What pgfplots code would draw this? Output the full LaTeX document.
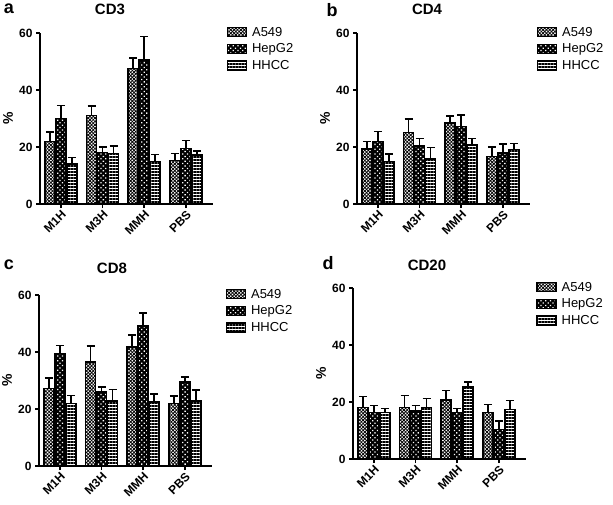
\documentclass[border=0pt]{standalone}
\usepackage{fontspec}
\setmainfont{Liberation Sans}
\usepackage{pgfplots}
\pgfplotsset{compat=1.18}
\usepackage{pgfplotstable}
\usetikzlibrary{patterns.meta}

% x: group, a/ae: A549 mean/err, h/he: HepG2, c/ce: HHCC
\pgfplotstableread{
x a ae h he c ce
0 22.0 3.3 30.0 4.6 14.0 2.3
1 31.0 3.3 18.0 2.0 17.8 2.5
2 47.6 3.7 50.5 8.2 14.9 2.5
3 15.2 2.5 19.5 2.8 17.2 1.4
}\cdthree
\pgfplotstableread{
x a ae h he c ce
0 19.3 2.7 22.0 3.4 15.0 2.6
1 25.1 4.7 20.4 2.6 15.8 4.0
2 28.5 2.4 27.2 4.1 20.7 2.3
3 16.6 3.4 17.9 3.2 19.2 2.1
}\cdfour
\pgfplotstableread{
x a ae h he c ce
0 27.2 3.7 39.4 2.8 21.9 2.9
1 36.5 5.6 26.0 1.7 22.8 4.1
2 41.7 4.3 49.1 4.6 22.5 2.7
3 21.9 2.7 29.4 1.8 22.8 3.8
}\cdeight
\pgfplotstableread{
x a ae h he c ce
0 18.0 4.0 16.4 2.3 16.3 1.4
1 18.0 4.2 16.8 2.0 18.0 3.3
2 20.7 3.4 16.4 1.4 25.3 1.8
3 16.3 2.8 10.4 2.9 17.3 3.2
}\cdtwenty

\pgfplotsset{
  panel/.style={
    width=173pt, height=171pt, scale only axis,
    ybar=1pt, bar width=10pt,
    ymin=0, ymax=60, ytick={0,20,40,60},
    xmin=-0.5, xmax=3.65, xtick={0,1,2,3},
    xticklabels={M1H,M3H,MMH,PBS},
    axis x line*=bottom, axis y line*=left,
    axis line style={line width=1.5pt,-},
    tick style={line width=1.5pt,black}, tick align=outside,
    major tick length=4pt,
    /pgf/number format/assume math mode=true,
    tick label style={font=\bfseries\fontsize{12}{12}\selectfont},
    xticklabel style={rotate=45, anchor=north east, inner sep=1pt},
    ylabel={\%},
    ylabel style={font=\bfseries\fontsize{14}{14}\selectfont,
      at={(axis description cs:-0.185,0.5)}, anchor=center},
    legend style={at={(1.06,1.06)}, anchor=north west, draw=none,
      font=\fontsize{13}{15}\selectfont, row sep=2pt},
    legend cell align=left,
    error bars/y dir=plus, error bars/y explicit,
    error bars/error bar style={line width=1.5pt,black},
    error bars/error mark options={rotate=90, mark size=4pt, line width=1.5pt, black},
  },
  boxleg/.style={legend image code/.code={
    \draw[##1, line width=1.5pt] (0pt,-4.5pt) rectangle (19pt,4.5pt);
    \path (22pt,0pt);}},
  sA/.style={draw=black, line width=1.5pt, fill=white,
    postaction={pattern={Lines[angle=45,distance=2.4pt,line width=0.8pt]}},
    postaction={pattern={Lines[angle=-45,distance=2.4pt,line width=0.8pt]}},
    boxleg},
  sH/.style={draw=black, line width=1.5pt, fill=black,
    postaction={pattern={Dots[angle=45,distance=3.4pt,radius=0.9pt]}, pattern color=white},
    boxleg},
  sC/.style={draw=black, line width=1.5pt, fill=white,
    postaction={pattern={Lines[angle=0,distance=3pt,line width=1.5pt]}},
    boxleg},
}

\newcommand{\panel}[1]{%
  \addplot[sA] table[x=x,y=a,y error=ae] {#1};
  \addplot[sH] table[x=x,y=h,y error=he] {#1};
  \addplot[sC] table[x=x,y=c,y error=ce] {#1};
  \legend{A549,HepG2,HHCC}}

\begin{document}
\begin{tikzpicture}[x=1pt,y=1pt]
\useasboundingbox (0,0) rectangle (613,-505);

\begin{axis}[panel, at={(40pt,-204pt)}, anchor=south west]
\panel{\cdthree}
\end{axis}
\begin{axis}[panel, at={(357pt,-204pt)}, anchor=south west,
  legend style={at={(1.02,1.06)}}]
\panel{\cdfour}
\end{axis}
\begin{axis}[panel, at={(39pt,-466pt)}, anchor=south west]
\panel{\cdeight}
\end{axis}
\begin{axis}[panel, at={(353pt,-459pt)}, anchor=south west,
  legend style={at={(1.04,1.06)}}]
\panel{\cdtwenty}
\end{axis}

\tikzset{ttl/.style={font=\bfseries\fontsize{15}{15}\selectfont},
         lett/.style={font=\bfseries\fontsize{18}{18}\selectfont}}
\node[ttl] at (110,-9) {CD3};
\node[ttl] at (427,-9) {CD4};
\node[ttl] at (112,-268) {CD8};
\node[ttl] at (427,-265) {CD20};
\node[lett] at (9,-9) {a};
\node[lett] at (332,-10) {b};
\node[lett] at (9,-265) {c};
\node[lett] at (328,-263) {d};
\end{tikzpicture}
\end{document}
